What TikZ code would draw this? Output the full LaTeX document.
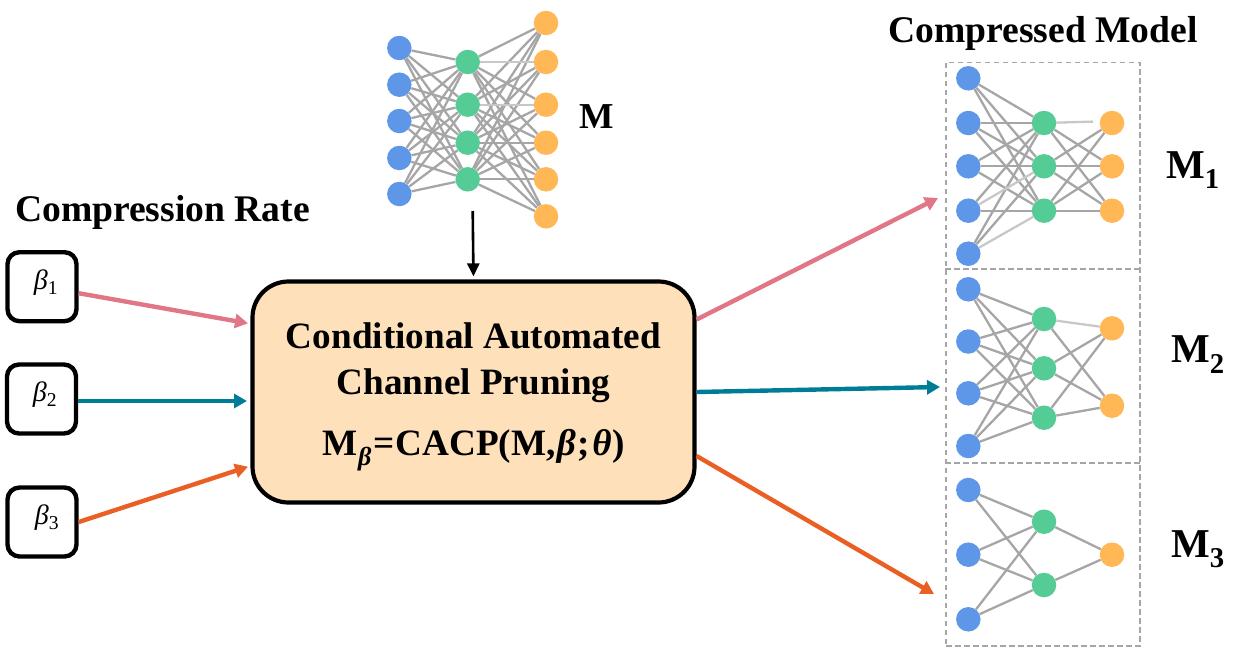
\documentclass[tikz,border=0pt]{standalone}
\usepackage{fontspec}
\setmainfont{Liberation Serif}
\usetikzlibrary{arrows.meta, positioning}

\definecolor{unit_blue}{HTML}{5E96E8}
\definecolor{unit_green}{HTML}{55CC96}
\definecolor{unit_orange}{HTML}{FFB855}
\definecolor{edge_gray}{HTML}{A6A6A6}
\definecolor{edge_light}{HTML}{C8C8C8}
\definecolor{box_fill}{HTML}{FEE1BB}
\definecolor{rate_pink}{HTML}{E07686}
\definecolor{rate_teal}{HTML}{007D96}
\definecolor{rate_orange}{HTML}{EA5F24}

\tikzset{
    unit/.style={circle, minimum size=24.5pt, inner sep=0pt},
    blue_unit/.style={unit, fill=unit_blue},
    green_unit/.style={unit, fill=unit_green},
    orange_unit/.style={unit, fill=unit_orange},
    link/.style={edge_gray, line width=2.3pt},
    light_link/.style={edge_light, line width=2.3pt},
    rate_box/.style={rectangle, draw, line width=4.4pt, rounded corners=12pt, minimum width=69pt, minimum height=69pt, inner sep=0pt},
    rate_text/.style={font=\fontsize{28}{28}\selectfont, inner sep=0pt},
    dash_line/.style={draw=edge_gray, dash pattern=on 5.5pt off 3.5pt, line width=1.6pt},
    rate_arrow/.style={line width=4.4pt, -{Triangle[length=13pt, width=14pt]}},
    big_text/.style={font=\fontsize{37.6}{37.6}\selectfont\bfseries, anchor=base, inner sep=0pt},
    model_text/.style={font=\fontsize{41}{41}\selectfont\bfseries, anchor=base west, inner sep=0pt},
}

\begin{document}
\begin{tikzpicture}[x=1pt, y=-1pt]
    \useasboundingbox (0, 0) rectangle (1244, 648);

    % input model
    \foreach \i/\y in {1/48, 2/84.7, 3/121, 4/158, 5/194}
        \node[blue_unit] (m_b\i) at (399.3, \y) {};
    \foreach \i/\y in {1/62, 2/104.7, 3/142.7, 4/179.3}
        \node[green_unit] (m_g\i) at (467.7, \y) {};
    \foreach \i/\y in {1/23, 2/62, 3/104.7, 4/142.7, 5/179.3, 6/216.3}
        \node[orange_unit] (m_o\i) at (546, \y) {};
    \foreach \i in {1,...,5}
        \foreach \j in {1,...,4}
            \draw[link] (m_b\i) -- (m_g\j);
    \foreach \i/\j in {1/1, 1/3, 1/4, 1/5, 1/6, 2/1, 2/2, 2/4, 2/5, 2/6, 3/1, 3/2, 3/3, 3/4, 3/5, 3/6, 4/1, 4/2, 4/3, 4/4, 4/5, 4/6}
        \draw[link] (m_g\i) -- (m_o\j);
    \draw[light_link] (m_g1) -- (m_o2);
    \draw[light_link] (m_g2) -- (m_o3);
    \node[model_text, font=\fontsize{36.5}{36.5}\selectfont\bfseries] (m_label) at (579, 128) {M};

    % compression rates
    \node[big_text] (rate_title) at (162.5, 221.5) {Compression Rate};
    \node[rate_box] (beta_1) at (42, 286.7) {};
    \node[rate_box] (beta_2) at (41.5, 399) {};
    \node[rate_box] (beta_3) at (42, 522) {};
    \node[rate_text] (beta_1_text) at (46, 283) {\textit{β}\textsubscript{1}};
    \node[rate_text] (beta_2_text) at (45, 395) {\textit{β}\textsubscript{2}};
    \node[rate_text] (beta_3_text) at (47, 518) {\textit{β}\textsubscript{3}};

    % pruning box
    \node[rectangle, draw, fill=box_fill, line width=4.2pt, rounded corners=36pt, minimum width=442pt, minimum height=221pt] (main_box) at (473.5, 392) {};
    \node[align=center, inner sep=0pt, font=\fontsize{37.2}{46}\selectfont\bfseries] (main_text) at (473.5, 396.5) {Conditional Automated\\Channel Pruning\\[15pt]M\kern1pt\textsubscript{\textit{β}}\kern1pt=\kern1.5ptCACP(M,\kern1pt\textit{β}\kern1.5pt;\kern2.5pt\textit{θ}\kern1pt)};

    \coordinate (m_out) at (472.7, 211);
    \draw[line width=2.6pt, -{Triangle[length=13pt, width=12pt]}, shorten >=3pt] (m_out) -- (main_box.north);

    \coordinate (in_a) at (248, 323.3);
    \coordinate (in_b) at (247, 401);
    \coordinate (in_c) at (248, 466.7);
    \draw[rate_arrow, rate_pink] (beta_1) -- (in_a);
    \draw[rate_arrow, rate_teal] (beta_2.east |- in_b) -- (in_b);
    \draw[rate_arrow, rate_orange] (beta_3.east) -- (in_c);

    \coordinate (out_a) at (938, 198);
    \coordinate (out_b) at (940, 387);
    \coordinate (out_c) at (934, 594);
    \draw[rate_arrow, rate_pink] (main_box.18) -- (out_a);
    \draw[rate_arrow, rate_teal] (main_box.east) -- (out_b);
    \draw[rate_arrow, rate_orange] (main_box.-16) -- (out_c);

    % compressed models
    \node[big_text] (model_title) at (1043, 42.5) {Compressed Model};
    \node[dash_line, rectangle, minimum width=194pt, minimum height=583.4pt, inner sep=0pt] (box_all) at (1043, 354) {};
    \coordinate (cut_a) at (1043, 269);
    \coordinate (cut_b) at (1043, 462.7);
    \draw[dash_line] (box_all.west |- cut_a) -- (box_all.east |- cut_a);
    \draw[dash_line] (box_all.west |- cut_b) -- (box_all.east |- cut_b);

    % first model
    \foreach \i/\y in {1/78.3, 2/123, 3/166.3, 4/210.7, 5/253.7}
        \node[blue_unit] (a_b\i) at (968.3, \y) {};
    \foreach \i/\y in {1/123, 2/166.3, 3/210.7} {
        \node[green_unit] (a_g\i) at (1044, \y) {};
        \node[orange_unit] (a_o\i) at (1112, \y) {};
    }
    \foreach \i/\j in {1/1, 1/2, 1/3, 2/1, 2/2, 2/3, 3/1, 3/2, 3/3, 4/1, 4/3, 5/1, 5/2}
        \draw[link] (a_b\i) -- (a_g\j);
    \draw[light_link] (a_b4) -- (a_g2);
    \draw[light_link] (a_b5) -- (a_g3);
    \foreach \i/\j in {1/2, 1/3, 2/1, 2/2, 2/3, 3/1, 3/2, 3/3}
        \draw[link] (a_g\i) -- (a_o\j);
    \coordinate (a_cut) at (1093, 121.6);
    \draw[light_link] (a_g1) -- (a_cut);
    \node[model_text] (a_label) at (1166, 178) {M\textsubscript{1}};

    % second model
    \foreach \i/\y in {1/289.3, 2/341.5, 3/393.3, 4/446}
        \node[blue_unit] (b_b\i) at (968.3, \y) {};
    \foreach \i/\y in {1/319, 2/368.3, 3/417.7}
        \node[green_unit] (b_g\i) at (1044, \y) {};
    \foreach \i/\y in {1/328.3, 2/405.7}
        \node[orange_unit] (b_o\i) at (1112, \y) {};
    \foreach \i in {1,...,4}
        \foreach \j in {1,...,3}
            \draw[link] (b_b\i) -- (b_g\j);
    \foreach \i/\j in {1/2, 2/1, 2/2, 3/1, 3/2}
        \draw[link] (b_g\i) -- (b_o\j);
    \draw[light_link] (b_g1) -- (b_o1);
    \node[model_text] (b_label) at (1171, 362.7) {M\textsubscript{2}};

    % third model
    \foreach \i/\y in {1/490, 2/554.7, 3/619.3}
        \node[blue_unit] (c_b\i) at (968.3, \y) {};
    \foreach \i/\y in {1/521.7, 2/585}
        \node[green_unit] (c_g\i) at (1044, \y) {};
    \node[orange_unit] (c_o1) at (1112, 554.7) {};
    \foreach \i in {1,...,3}
        \foreach \j in {1,2}
            \draw[link] (c_b\i) -- (c_g\j);
    \foreach \j in {1,2}
        \draw[link] (c_g\j) -- (c_o1);
    \node[model_text] (c_label) at (1171, 557) {M\textsubscript{3}};
\end{tikzpicture}
\end{document}
